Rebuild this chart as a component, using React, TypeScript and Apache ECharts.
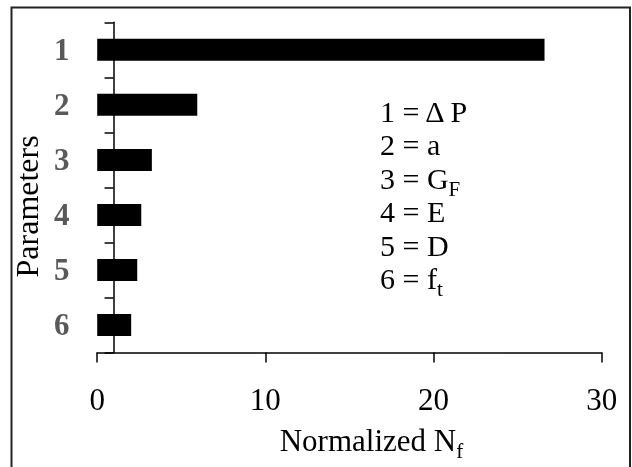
import React, { useEffect, useRef } from "react";
import * as echarts from "echarts";

const categories = ["1", "2", "3", "4", "5", "6"];
const normalizedNf = [26.6, 5.95, 3.25, 2.62, 2.38, 2.02];
const xTicks = { min: 0, max: 30, interval: 10 };
const axisCross = 1;
const legendMain = ["1 = Δ P", "2 = a", "3 = G", "4 = E", "5 = D", "6 = f"];
const legendSub = ["", "", "F", "", "", "t"];
const xAxisTitle = "Normalized N";
const xAxisTitleSub = "f";
const yAxisTitle = "Parameters";

const FONT = "Liberation Serif";

export default function App() {
  const ref = useRef<HTMLDivElement>(null);

  useEffect(() => {
    if (!ref.current) return;
    const chart = echarts.init(ref.current, null, { renderer: "svg" });

    const richMain = (size: number) => ({
      m: { fontSize: size, fontFamily: FONT, color: "#000", lineHeight: 30, padding: [0, 0, 6, 0], verticalAlign: "bottom" },
      s: { fontSize: 21, fontFamily: FONT, color: "#000", lineHeight: 21, verticalAlign: "bottom" },
    });

    const legendGraphics = legendMain.map((t, i) => ({
      type: "text",
      x: 380,
      y: 117.5 + 33.4 * i,
      style: {
        text: `{m|${t}}` + (legendSub[i] ? `{s|${legendSub[i]}}` : ""),
        rich: richMain(30),
        fontSize: 30,
        fontFamily: FONT,
        fill: "#000",
        align: "left",
        verticalAlign: "middle",
      },
    }));

    const option: any = {
      animation: false,
      grid: { left: 97.2, right: 30.3, top: 22.3, bottom: 114.5 },
      xAxis: {
        type: "value",
        min: xTicks.min,
        max: xTicks.max,
        interval: xTicks.interval,
        splitLine: { show: false },
        axisLine: { show: true, lineStyle: { color: "#000", width: 1.5 } },
        axisTick: { show: true, length: 10, lineStyle: { color: "#000", width: 1.5 } },
        axisLabel: { margin: 31, fontSize: 31, fontFamily: FONT, color: "#000" },
        name: `{m|${xAxisTitle}}{s|${xAxisTitleSub}}`,
        nameLocation: "middle",
        nameGap: 79,
        nameTextStyle: { rich: richMain(31), fontSize: 31, fontFamily: FONT, color: "#000", padding: [0, 0, 0, 44] },
      },
      yAxis: {
        type: "category",
        data: categories,
        inverse: true,
        axisLine: { show: true, onZero: false, lineStyle: { color: "#000", width: 1.5 } },
        axisTick: { show: true, length: 9, lineStyle: { color: "#000", width: 1.5 } },
        axisLabel: { margin: 44, fontSize: 31, fontWeight: "bold", fontFamily: FONT, color: "#595959" },
        name: yAxisTitle,
        nameLocation: "middle",
        nameGap: 68,
        nameTextStyle: { fontSize: 32, fontFamily: FONT, color: "#000", padding: [0, 38, 0, 0] },
      },
      series: [
        {
          type: "bar",
          data: normalizedNf,
          barWidth: "40%",
          itemStyle: { color: "#000" },
          z: 3,
        },
      ],
      graphic: [
        {
          type: "rect",
          shape: { x: 11.5, y: 7.5, width: 618.5, height: 500 },
          style: { fill: "none", stroke: "#222", lineWidth: 2 },
          silent: true,
        },
        ...legendGraphics,
      ],
    };

    chart.setOption(option);
    const p0 = chart.convertToPixel({ xAxisIndex: 0 }, xTicks.min) as number;
    const p1 = chart.convertToPixel({ xAxisIndex: 0 }, axisCross) as number;
    chart.setOption({ yAxis: { offset: p0 - p1 } });

    return () => chart.dispose();
  }, []);

  return <div ref={ref} style={{ position: "fixed", left: 0, top: 0, width: 632, height: 467 }} />;
}
